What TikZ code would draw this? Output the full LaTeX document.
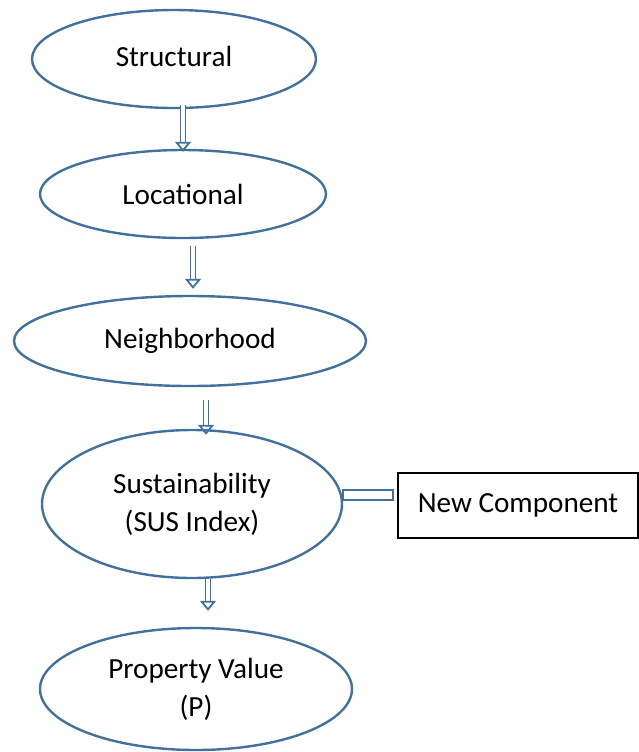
\documentclass[tikz,border=0pt]{standalone}
\usepackage{fontspec}
\setmainfont{Carlito}
\usetikzlibrary{shapes.geometric,arrows.meta}
\definecolor{edgeblue}{RGB}{65,113,156}
\begin{document}
\begin{tikzpicture}[x=0.5pt,y=-0.5pt,
  oval/.style={ellipse,draw=edgeblue,line width=1.2pt,inner sep=0pt,
    font=\fontsize{14.6}{19}\selectfont,align=center},
  hol/.style={draw=edgeblue,line width=0.9pt,double=white,double distance=1.6pt,
    -{Triangle[open,length=5pt,width=8pt]}}]
\useasboundingbox (0,0) rectangle (639,752);
% the five levels
\node[oval,minimum width=142pt,minimum height=49pt] (str) at (174,59) {\raisebox{3pt}{Structural}};
\node[oval,minimum width=143pt,minimum height=44pt] (loc) at (183,194) {Locational};
\node[oval,minimum width=176pt,minimum height=45pt] (nbh) at (190,341) {Neighborhood};
\node[oval,minimum width=150pt,minimum height=74pt] (sus) at (192,504) {Sustainability\\(SUS Index)};
\node[oval,minimum width=156pt,minimum height=61pt] (pv) at (196,689) {Property Value\\(P)};
% side box
\node[draw,line width=0.7pt,minimum width=120pt,minimum height=32.5pt,
  font=\fontsize{14.6}{19}\selectfont] (newc) at (518,505.5) {New Component};
% hollow arrows between levels
\draw[hol] ([xshift=4.5pt,yshift=2pt]str.south) -- ([yshift=-1.5pt]loc.north);
\draw[hol] ([xshift=5pt,yshift=-3.5pt]loc.south) -- ([xshift=1.5pt,yshift=3pt]nbh.north);
\draw[hol] ([xshift=8pt,yshift=-6.5pt]nbh.south) -- ([xshift=7pt,yshift=-3pt]sus.north);
\draw[hol] ([xshift=8pt]sus.south) -- ([xshift=6pt,yshift=8pt]pv.north);
% bar to the new component
\draw[draw=edgeblue,line width=0.9pt,fill=white] ([yshift=7pt]sus.east)
  rectangle ([xshift=-2pt,yshift=2.75pt]newc.west);
\end{tikzpicture}
\end{document}
